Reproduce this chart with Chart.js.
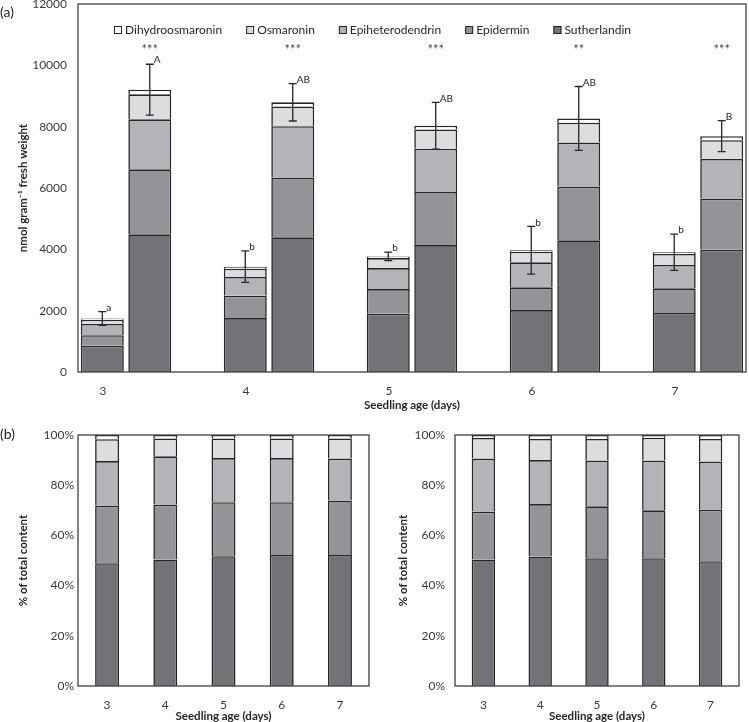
<!DOCTYPE html>
<html>
<head>
<meta charset="utf-8">
<script src="https://cdn.jsdelivr.net/npm/chart.js@4.4.1/dist/chart.umd.min.js"></script>
<style>
  body { margin: 0; background: #fff; font-family: Lato, sans-serif; }
  #wrap { position: relative; width: 749px; height: 722px; }
  canvas { position: absolute; }
  .panel { position: absolute; font-size: 14px; color: #262626; }
</style>
</head>
<body>
<div id="wrap">
  <canvas id="totalChart" width="749" height="420" style="left:0;top:0"></canvas>
  <canvas id="pctLeft" width="372" height="302" style="left:0;top:420px"></canvas>
  <canvas id="pctRight" width="377" height="302" style="left:372px;top:420px"></canvas>
  <div class="panel" style="left:0;top:3px">(a)</div>
  <div class="panel" style="left:0;top:425px">(b)</div>
</div>
<script>
  /* -------- Data -------- */

  const DAYS      = [3, 4, 5, 6, 7];
  const COMPOUNDS = ['Sutherlandin', 'Epidermin', 'Epiheterodendrin', 'Osmaronin', 'Dihydroosmaronin'];

  // (a) nmol g-1 FW, left bar of each day
  const sutherlandinL = [860, 1760, 1900, 2020, 1925];
  const epiderminL    = [340, 730, 805, 740, 805];
  const epiheteroL    = [370, 610, 685, 815, 760];
  const osmaroninL    = [135, 270, 325, 350, 360];
  const dihydroL      = [40, 65, 55, 45, 55];
  const errorL        = [225, 515, 140, 780, 590];
  const lettersL      = ['a', 'b', 'b', 'b', 'b'];

  // (a) right bar of each day
  const sutherlandinR = [4490, 4390, 4140, 4295, 3990];
  const epiderminR    = [2120, 1950, 1730, 1750, 1665];
  const epiheteroR    = [1630, 1675, 1410, 1435, 1295];
  const osmaroninR    = [815, 640, 630, 650, 610];
  const dihydroR      = [150, 140, 120, 140, 130];
  const errorR        = [830, 610, 760, 1040, 505];
  const lettersR      = ['A', 'AB', 'AB', 'AB', 'B'];
  const stars         = ['***', '***', '***', '**', '***'];

  // (b) % of total content
  const pctSuthL   = [48.9, 50.4, 51.7, 52.2, 52.2];
  const pctEpidL   = [23.0, 21.9, 21.5, 21.0, 21.7];
  const pctEpihetL = [17.7, 19.2, 17.6, 17.6, 16.7];
  const pctOsmL    = [8.7, 7.1, 7.8, 7.8, 8.0];
  const pctDihydL  = [1.7, 1.4, 1.4, 1.4, 1.4];

  const pctSuthR   = [50.4, 51.6, 50.9, 50.9, 49.7];
  const pctEpidR   = [19.1, 20.9, 20.7, 19.1, 20.6];
  const pctEpihetR = [21.1, 17.5, 18.2, 19.8, 19.1];
  const pctOsmR    = [8.2, 8.4, 8.6, 9.1, 9.0];
  const pctDihydR  = [1.2, 1.6, 1.6, 1.1, 1.6];

  const TICKS_A    = [0, 2000, 4000, 6000, 8000, 10000, 12000];
  const STAR_LEVEL = 10500;

  /* -------- Style -------- */

  const COLORS   = ['#727377', '#939498', '#b3b4b7', '#dcdddf', '#ffffff'];
  const EDGE     = '#262626';
  const TICK_CLR = '#3a3a3a';
  const FONT     = 'Lato, sans-serif';

  Chart.defaults.font.family = FONT;
  Chart.defaults.animation = false;

  const tickFont  = { size: 12 };
  const titleFont = { size: 11.5, weight: 'bold' };

  function barSet(label, data, k, stack) {
    return {
      label, data, stack,
      backgroundColor: COLORS[k],
      borderColor: EDGE,
      borderWidth: 1.6,
      inflateAmount: 0,
    };
  }

  // fixed axis box, no extra room for overhanging tick labels
  function fixBox(size) {
    return s => {
      if (s.isHorizontal()) s.height = size; else s.width = size;
      s.paddingTop = s.paddingBottom = s.paddingLeft = s.paddingRight = 0;
    };
  }

  /* -------- Plugins -------- */

  const framePlugin = {
    id: 'frame',
    afterDatasetsDraw(chart) {
      const { ctx, chartArea: a } = chart;
      ctx.save();
      ctx.strokeStyle = '#404040';
      ctx.lineWidth = 1.3;
      ctx.strokeRect(a.left, a.top, a.right - a.left, a.bottom - a.top);
      ctx.restore();
    },
  };

  const insideLegend = {
    id: 'insideLegend',
    afterDraw(chart) {
      const { ctx, chartArea } = chart;
      const items = chart.data.datasets.filter(d => d.stack === 'L').reverse();
      ctx.save();
      ctx.font = `12px ${FONT}`;
      const box = 8, gapText = 3, gapItem = 24;
      const widths = items.map(d => box + gapText + ctx.measureText(d.label).width);
      const total  = widths.reduce((a, b) => a + b, 0) + gapItem * (items.length - 1);
      let x = chart.width / 2 - total / 2 - 2;
      const y = chartArea.top + 26;
      ctx.textBaseline = 'middle';
      items.forEach((d, i) => {
        ctx.fillStyle = d.backgroundColor;
        ctx.fillRect(x, y - 4, box, box);
        ctx.strokeStyle = EDGE;
        ctx.lineWidth = 1;
        ctx.strokeRect(x + 0.5, y - 3.5, box - 1, box - 1);
        ctx.fillStyle = EDGE;
        ctx.fillText(d.label, x + box + gapText, y);
        x += widths[i] + gapItem;
      });
      ctx.restore();
    },
  };

  const errorBarPlugin = {
    id: 'errorBars',
    afterDatasetsDraw(chart) {
      const { ctx, scales: { y } } = chart;
      const groups = [
        { stack: 'L', errors: errorL, letters: lettersL },
        { stack: 'R', errors: errorR, letters: lettersR, stars },
      ];
      ctx.save();
      groups.forEach(g => {
        const idx = chart.data.datasets.map((d, i) => (d.stack === g.stack ? i : -1)).filter(i => i >= 0);
        const top = chart.getDatasetMeta(idx[idx.length - 1]);
        top.data.forEach((bar, i) => {
          const total = idx.reduce((s, k) => s + chart.data.datasets[k].data[i], 0);
          const yHi = y.getPixelForValue(total + g.errors[i]);
          const yLo = y.getPixelForValue(total - g.errors[i]);
          const x = bar.x;
          ctx.strokeStyle = EDGE;
          ctx.lineWidth = 1.3;
          ctx.beginPath();
          ctx.moveTo(x, yHi); ctx.lineTo(x, yLo);
          ctx.moveTo(x - 4, yHi); ctx.lineTo(x + 4, yHi);
          ctx.moveTo(x - 4, yLo); ctx.lineTo(x + 4, yLo);
          ctx.stroke();

          ctx.fillStyle = EDGE;
          ctx.font = `10px ${FONT}`;
          ctx.textAlign = 'left';
          ctx.textBaseline = 'bottom';
          ctx.fillText(g.letters[i], x + 4, yHi + 1);

          if (g.stars) {
            ctx.fillStyle = '#4a4a4a';
            ctx.font = `13px ${FONT}`;
            ctx.textAlign = 'center';
            ctx.textBaseline = 'middle';
            ctx.fillText(g.stars[i], x, y.getPixelForValue(STAR_LEVEL));
          }
        });
      });
      ctx.restore();
    },
  };

  /* -------- (a) absolute content -------- */

  const seriesL = [sutherlandinL, epiderminL, epiheteroL, osmaroninL, dihydroL];
  const seriesR = [sutherlandinR, epiderminR, epiheteroR, osmaroninR, dihydroR];

  new Chart(document.getElementById('totalChart'), {
    type: 'bar',
    data: {
      labels: DAYS,
      datasets: [
        ...COMPOUNDS.map((c, k) => barSet(c, seriesL[k], k, 'L')),
        ...COMPOUNDS.map((c, k) => barSet(c, seriesR[k], k, 'R')),
      ],
    },
    options: {
      responsive: false,
      categoryPercentage: 0.664,
      barPercentage: 0.905,
      layout: { padding: { top: 4, right: 3, left: 0, bottom: 0 } },
      plugins: { legend: { display: false }, tooltip: { enabled: false } },
      scales: {
        x: {
          type: 'linear',
          offset: false,
          min: DAYS[0] - 0.336,
          max: DAYS[DAYS.length - 1] + 0.336,
          afterBuildTicks: s => { s.ticks = DAYS.map(v => ({ value: v })); },
          afterFit: fixBox(48),
          grid: { display: false, drawTicks: false },
          border: { display: false },
          ticks: { labelOffset: -23, padding: 12, font: tickFont, color: TICK_CLR, callback: v => String(v) },
          title: { display: true, text: 'Seedling age (days)', font: titleFont, color: EDGE, padding: { top: 0, bottom: 8 } },
        },
        y: {
          stacked: true,
          min: 0,
          max: 12000,
          afterBuildTicks: s => { s.ticks = TICKS_A.map(v => ({ value: v })); },
          afterFit: fixBox(78),
          grid: { display: false, drawTicks: false },
          border: { display: false },
          ticks: { padding: 11, font: tickFont, color: TICK_CLR, callback: v => String(v) },
          title: { display: true, text: 'nmol gram⁻¹ fresh weight', font: titleFont, color: EDGE, padding: { top: 16 } },
        },
      },
    },
    plugins: [framePlugin, errorBarPlugin, insideLegend],
  });

  /* -------- (b) relative content -------- */

  function percentChart(id, series, axisWidth, rightPad, titlePad, tickPad) {
    new Chart(document.getElementById(id), {
      type: 'bar',
      data: {
        labels: DAYS,
        datasets: COMPOUNDS.map((c, k) => barSet(c, series[k], k, 'P')),
      },
      options: {
        responsive: false,
        categoryPercentage: 0.8,
        barPercentage: 0.515,
        layout: { padding: { top: 15, right: rightPad, left: 0, bottom: 0 } },
        plugins: { legend: { display: false }, tooltip: { enabled: false } },
        scales: {
          x: {
            afterFit: fixBox(36),
            grid: { display: false, drawTicks: false },
            border: { display: false },
            ticks: { padding: 12, font: tickFont, color: TICK_CLR },
            title: { display: true, text: 'Seedling age (days)', font: titleFont, color: EDGE, padding: { top: 0, bottom: -1 } },
          },
          y: {
            stacked: true,
            min: 0,
            max: 100,
            afterFit: fixBox(axisWidth),
            grid: { display: false, drawTicks: false },
            border: { display: false },
            ticks: { stepSize: 20, padding: tickPad, font: tickFont, color: TICK_CLR, callback: v => v + '%' },
            title: { display: true, text: '% of total content', font: titleFont, color: EDGE, padding: { top: titlePad } },
          },
        },
      },
      plugins: [framePlugin],
    });
  }

  percentChart('pctLeft',  [pctSuthL, pctEpidL, pctEpihetL, pctOsmL, pctDihydL], 78, 3, 16, 4);
  percentChart('pctRight', [pctSuthR, pctEpidR, pctEpihetR, pctOsmR, pctDihydR], 83, 10, 24, 10);
</script>
</body>
</html>
